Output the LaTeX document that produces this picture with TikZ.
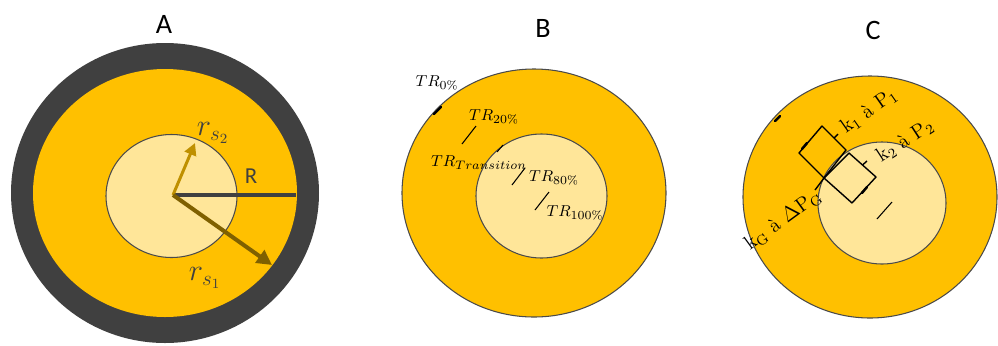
\documentclass[tikz,border=0pt]{standalone}
\usepackage{fontspec}
\usepackage{amsmath}
\usepackage{tikz}
\usetikzlibrary{
  arrows.meta,
  calc
}
\newfontfamily\calfont{Carlito}
\definecolor{rsRing}{HTML}{404040}
\definecolor{rsGold}{HTML}{FFC000}
\definecolor{rsPale}{HTML}{FFE699}
\definecolor{rsEdge}{HTML}{4A4A4A}
\definecolor{rsArrowIn}{HTML}{BF9000}
\definecolor{rsArrowOut}{HTML}{7F6000}
\tikzset{
  ringfill/.style={fill=rsRing, draw=none},
  goldfill/.style={fill=rsGold, draw=none},
  goldedge/.style={fill=rsGold, draw=rsEdge, line width=0.6pt},
  palefill/.style={fill=rsPale, draw=rsEdge, line width=0.6pt},
  title/.style={font=\calfont\fontsize{16}{19}\selectfont, inner sep=0pt},
  rlabel/.style={font=\calfont\fontsize{13}{15}\selectfont, text=rsRing, inner sep=0pt},
  rslabel/.style={font=\fontsize{17}{19}\selectfont, text=rsRing, inner sep=0pt},
  trlabel/.style={font=\fontsize{9.5}{11}\selectfont, inner sep=0pt},
  klabel/.style={font=\fontsize{11.5}{13}\selectfont, inner sep=0pt},
  radiusline/.style={line width=2pt, rsRing},
  inarrow/.style={-{Triangle[length=2.4mm, width=2.4mm]}, line width=1.7pt, rsArrowIn},
  outarrow/.style={-{Triangle[length=3mm, width=3mm]}, line width=2.3pt, rsArrowOut},
  trtick/.style={line width=0.6pt, black},
  blip/.style={line width=1.4pt, black, line cap=round},
  wire/.style={line width=0.8pt, black, line join=round}
}
\begin{document}
\begin{tikzpicture}[x=0.2mm, y=-0.2mm]
  \useasboundingbox (0,0) rectangle (998,345);

  % A
  \fill[ringfill] (165,193) ellipse [x radius=154, y radius=150];
  \fill[goldfill] (165,193) ellipse [x radius=132, y radius=124];
  \draw[palefill] (171.5,196) ellipse [x radius=65.5, y radius=61.5];
  \coordinate (cA) at (173,195);
  \coordinate (rEnd) at (296,195);
  \coordinate (rs1End) at (272,265);
  \coordinate (rs2End) at (195,143);
  \draw[radiusline] (cA) -- (rEnd);
  \draw[inarrow] (cA) -- (rs2End);
  \draw[outarrow] (cA) -- (rs1End);
  \node[title] (tA) at (164,24) {A};
  \node[rlabel] (lR) at (251,176) {R};
  \node[rslabel] (lrs2) at (213,133) {$r_{s_2}$};
  \node[rslabel] (lrs1) at (205,278) {$r_{s_1}$};

  % B
  \draw[goldedge] (534,193) ellipse [x radius=132, y radius=124];
  \draw[palefill] (541.5,196) ellipse [x radius=65.5, y radius=62];
  \node[title] (tB) at (543,28) {B};
  \node[trlabel] (tr0) at (437,83) {$TR_{0\%}$};
  \node[trlabel] (tr20) at (494,117) {$TR_{20\%}$};
  \node[trlabel] (trT) at (479,163) {$TR_{Transition}$};
  \node[trlabel] (tr80) at (554,178) {$TR_{80\%}$};
  \node[trlabel] (tr100) at (575,213) {$TR_{100\%}$};
  \draw[blip] (434,114) -- (441,107);
  \draw[trtick] (462,144) -- (476,126);
  \draw[trtick] (497,152) -- (503,145);
  \draw[trtick] (512,185) -- (525,168);
  \draw[trtick] (535,210) -- (549,192);

  % C
  \draw[goldedge] (870,197) ellipse [x radius=127, y radius=121];
  \draw[palefill] (882,203) ellipse [x radius=64, y radius=61];
  \node[title] (tC) at (873,30) {C};
  \coordinate (jn) at (824,178);
  \coordinate (lead) at (815,190);
  \draw[wire] (lead) -- (jn);
  \draw[wire] (jn) -- (799,153) -- (822,126) -- (846,150) -- cycle;
  \draw[wire] (jn) -- (849,153) -- (876,177) -- (852,203) -- cycle;
  \draw[wire] (834,138) -- (838,134);
  \draw[wire] (862.5,165) -- (867,161);
  \draw[blip] (802,149) -- (807,143);
  \draw[blip] (862,193) -- (867,187);
  \draw[blip] (775,121) -- (780,116);
  \draw[trtick] (877,219) -- (892,202);
  \node[klabel, rotate=36] (kG) at (783,220) {k$_{\mathrm{G}}$ à $\Delta$P$_{\mathrm{G}}$};
  \node[klabel, rotate=35] (k1) at (869,111) {k$_{1}$ à P$_{1}$};
  \node[klabel, rotate=33] (k2) at (905,141) {k$_{2}$ à P$_{2}$};
\end{tikzpicture}
\end{document}
